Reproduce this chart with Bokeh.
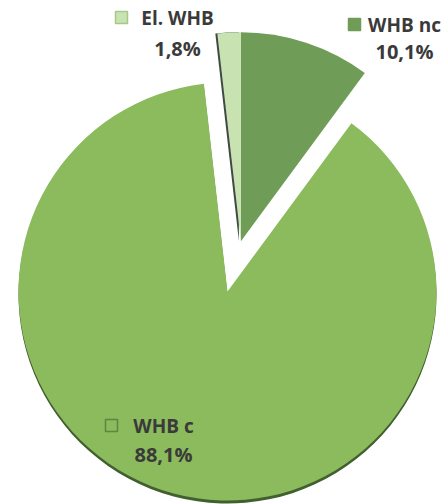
import math
from bokeh.plotting import figure
from bokeh.models import Range1d
from bokeh.core.properties import value
from bokeh.embed import file_html
from bokeh.resources import INLINE

# ---- data ----
categories = ["WHB nc", "WHB c", "El. WHB"]
shares = [10.1, 88.1, 1.8]
colors = ["#6F9C56", "#8BBB5C", "#C9E2B1"]
exploded = [True, False, True]

W, H = 446, 504
p = figure(width=W, height=H, output_backend="svg", toolbar_location=None,
           x_range=Range1d(0, W), y_range=Range1d(0, H), min_border=0)
p.axis.visible = False
p.grid.visible = False
p.outline_line_color = None
p.background_fill_color = "white"
p.border_fill_color = "white"

# layout (pixel space, y measured from top)
cx, cy_top, R = 227, 291, 209
cy = H - cy_top
explode_dist = 52

total = sum(shares)
fr = [s / total for s in shares]
cum = [0]
for f in fr:
    cum.append(cum[-1] + f)

# exploded group direction: middle of the exploded slices (wrapping over top)
ex_angles = []
for i, e in enumerate(exploded):
    if e:
        a0 = 360 * cum[i]
        a1 = 360 * cum[i + 1]
        if a0 > 180:
            a0 -= 360
            a1 -= 360
        ex_angles += [a0, a1]
mid = (min(ex_angles) + max(ex_angles)) / 2  # degrees clockwise from top
dx = explode_dist * math.sin(math.radians(mid))
dy = explode_dist * math.cos(math.radians(mid))

for i, cat in enumerate(categories):
    start = math.radians(90 - 360 * cum[i])
    end = math.radians(90 - 360 * cum[i + 1])
    ox, oy = (dx, dy) if exploded[i] else (0, 0)
    # shadow
    if not exploded[i]:
        p.wedge(x=[cx + ox], y=[cy + oy - 3], radius=R, start_angle=start, end_angle=end,
                direction="clock", fill_color="#42602F", line_color=None)
    elif cat == "El. WHB":
        p.wedge(x=[cx + ox - 2], y=[cy + oy], radius=R, start_angle=start, end_angle=end,
                direction="clock", fill_color="#3F4A44", line_color=None)
    p.wedge(x=[cx + ox], y=[cy + oy], radius=R, start_angle=start, end_angle=end,
            direction="clock", fill_color=colors[i], line_color=None)

# labels: (text center x, name y, pct y, marker x) in pixels from top
label_pos = {"WHB nc": (404, 24, 51, 354), "WHB c": (163, 425, 454, 111),
             "El. WHB": (177, 17, 48, 121)}
marker_style = {
    "WHB nc": dict(fill_color=colors[0], line_color=colors[0]),
    "WHB c": dict(fill_color=colors[1], line_color="#5E8446"),
    "El. WHB": dict(fill_color=colors[2], line_color="#A6C98A"),
}
font = value("Open Sans")
for i, cat in enumerate(categories):
    lx, ly1, ly2, mx = label_pos[cat]
    pct = f"{shares[i]:.1f}".replace(".", ",") + "%"
    p.text(x=[lx], y=[H - ly1], text=[cat], text_font=font, text_font_style="bold",
           text_font_size="19px", text_color="#3A3A3A", text_align="center",
           text_baseline="middle")
    p.text(x=[lx], y=[H - ly2], text=[pct], text_font=font, text_font_style="bold",
           text_font_size="20px", text_color="#3A3A3A", text_align="center",
           text_baseline="middle")
    p.scatter(x=[mx], y=[H - ly1], marker="square", size=12,
              line_width=1.5, **marker_style[cat])

open("out.html", "w").write(file_html(p, INLINE))
